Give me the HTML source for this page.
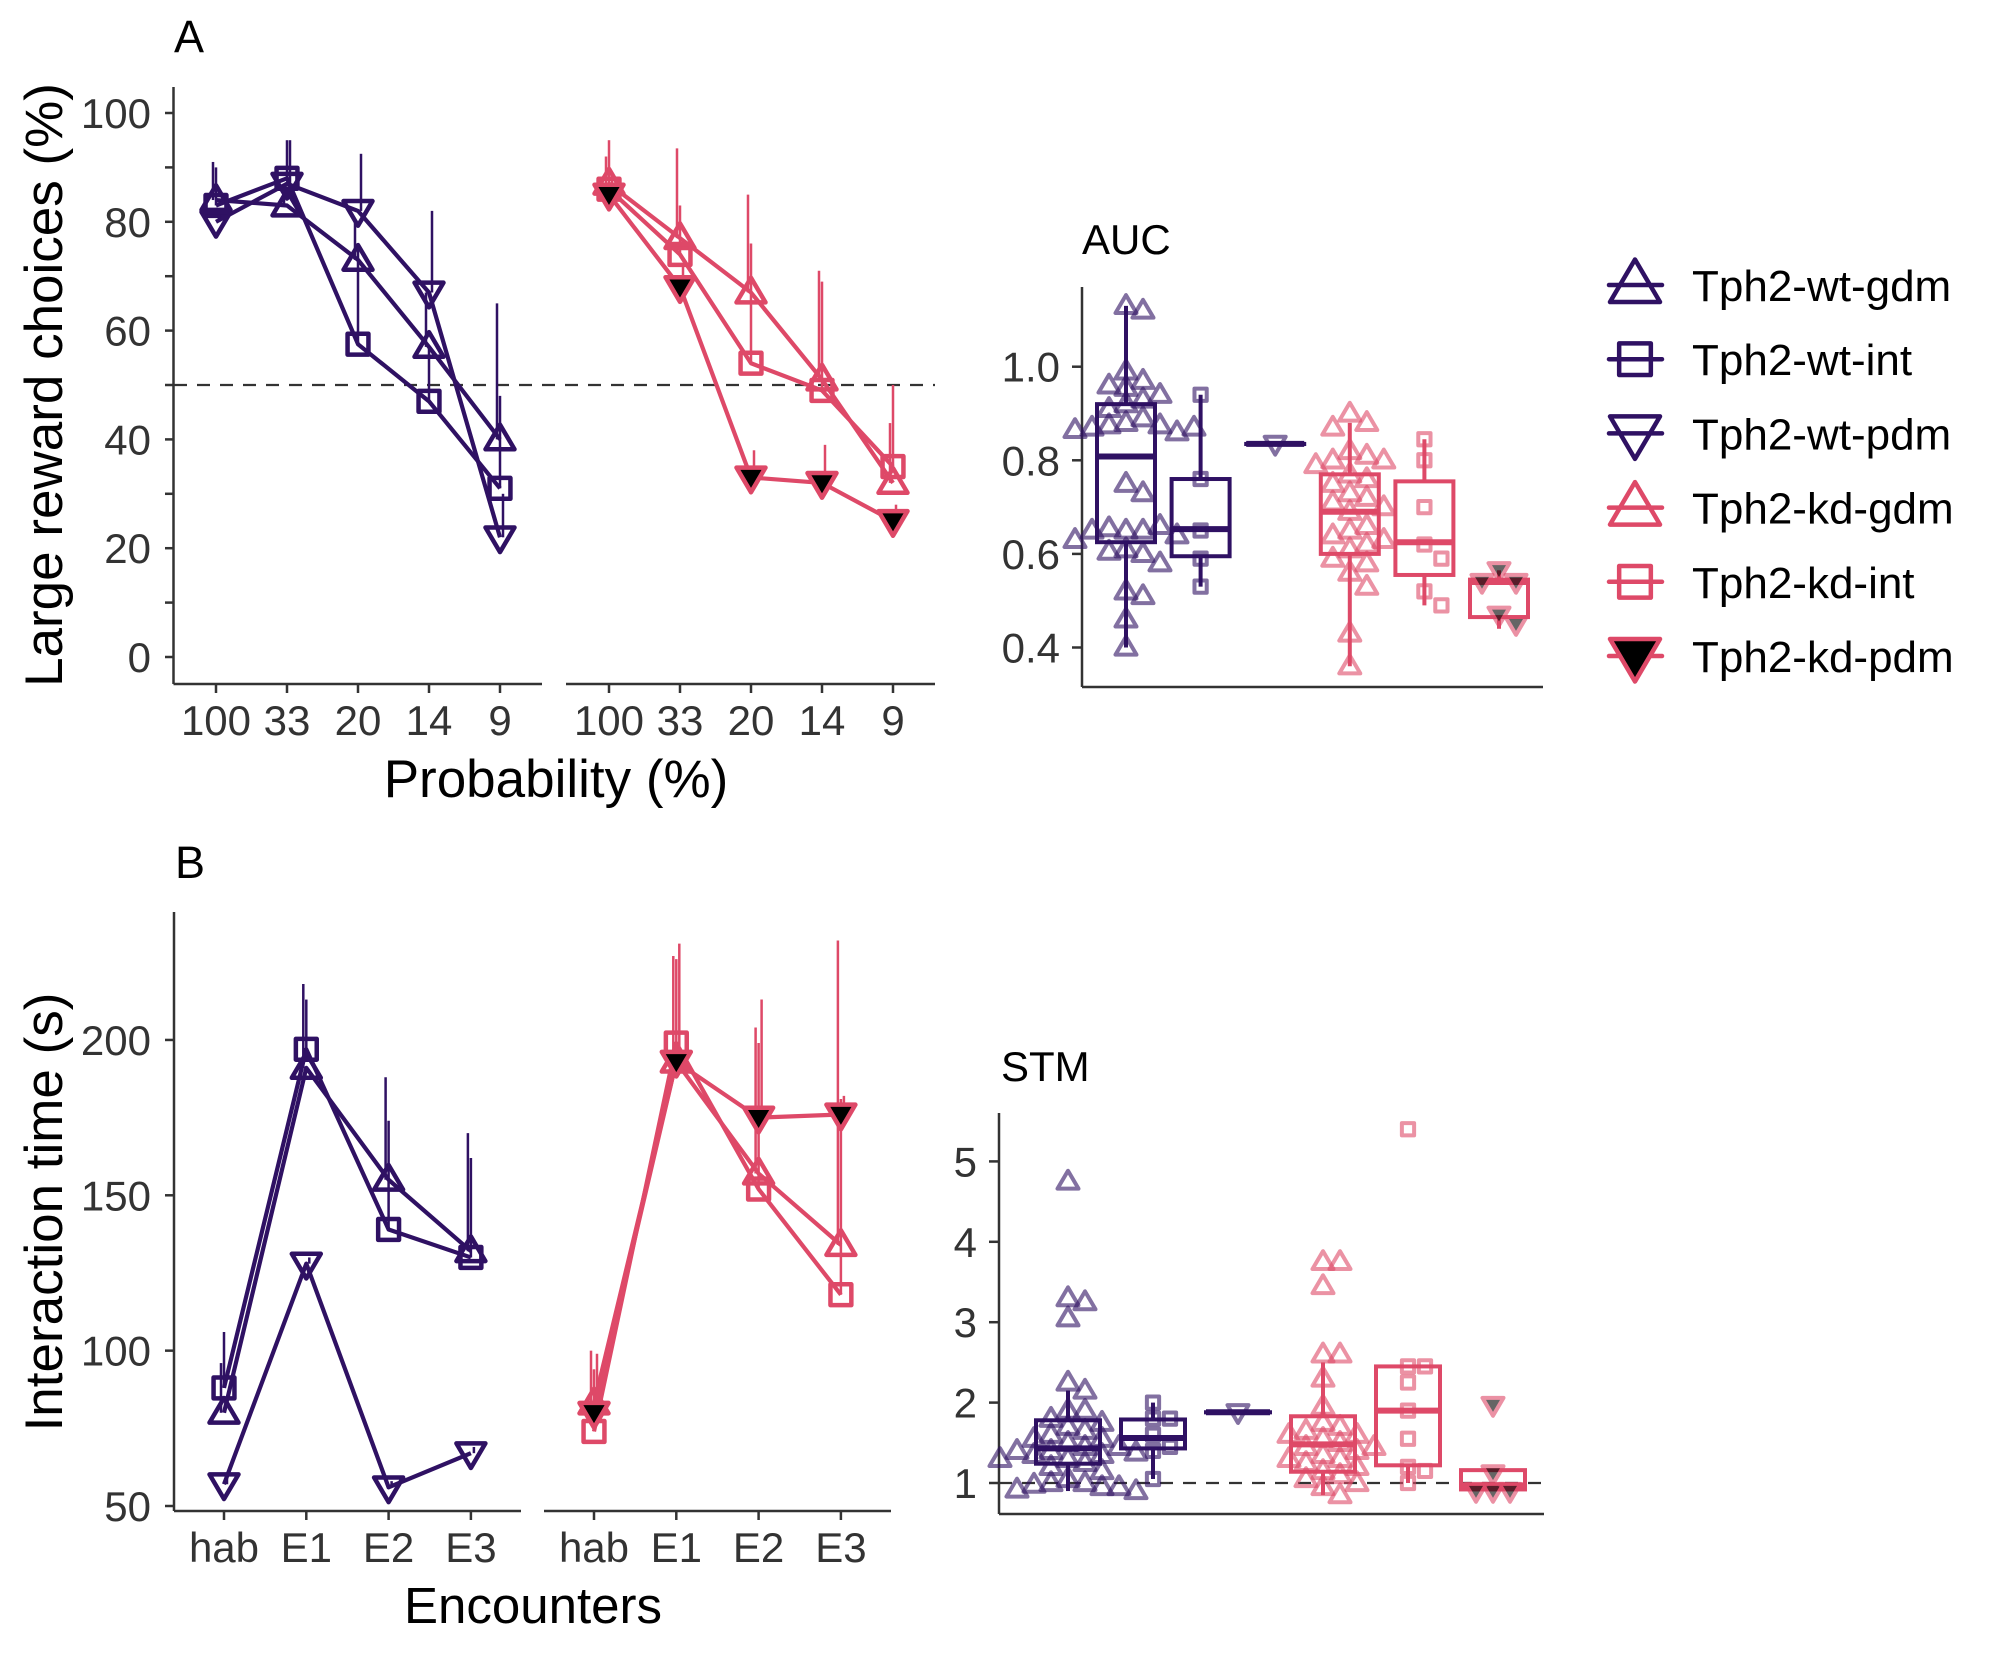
<!DOCTYPE html>
<html><head><meta charset="utf-8"><style>
html,body{margin:0;padding:0;background:#fff;}
svg{display:block;font-family:"Liberation Sans",Arial,sans-serif;}
</style></head><body>
<svg id="fig" width="2007" height="1653" viewBox="0 0 2007 1653" xmlns="http://www.w3.org/2000/svg">
<rect width="2007" height="1653" fill="#fff"/>
<g id="root"></g>
</svg>
<script>
// ---------- Panel A data ----------
const probCats = ["100","33","20","14","9"];
const aWtGdm = [84,83,73,57,40];
const aWtInt = [83,88,57.5,47,31];
const aWtPdm = [80,87,82,67,22];
const aKdGdm = [87,77,67,51,32];
const aKdInt = [86,74,54,49,35];
const aKdPdm = [85,68,33,32,25];
const aWtGdmTop = [91,86,80,67,65];
const aWtIntTop = [90,95,76,57,48];
const aWtPdmTop = [82,95,92.5,82,30];
const aKdGdmTop = [92,93.5,85,71,43];
const aKdIntTop = [95,83,76,69,50];
const aKdPdmTop = [88,72,38,39,28];
const aYTicks = [0,20,40,60,80,100];
// ---------- Panel B data ----------
const encCats = ["hab","E1","E2","E3"];
const bWtGdm = [80,191,155,132];
const bWtInt = [88,197,139,130];
const bWtPdm = [57,128,56,67];
const bKdGdm = [83,193,157,134];
const bKdInt = [74,199,152,118];
const bKdPdm = [80,193,175,176];
const bWtGdmTop = [96,218,188,170];
const bWtIntTop = [106,213,174,162];
const bWtPdmTop = [60,130,58,69];
const bKdGdmTop = [100,227,204,232];
const bKdIntTop = [94,226,199,181];
const bKdPdmTop = [99,231,213,182];
const bYTicks = [50,100,150,200];
// ---------- AUC box data [lo,q1,med,q3,hi] ----------
const aucStats = [[0.40,0.625,0.808,0.92,1.13],[0.53,0.595,0.653,0.76,0.94],[0.835,0.835,0.835,0.835,0.835],[0.36,0.60,0.69,0.77,0.88],[0.49,0.555,0.625,0.755,0.845],[0.44,0.465,0.54,0.545,0.565]];
const aucWtGdmPts = [1.13,1.12,0.99,0.97,0.96,0.955,0.94,0.92,0.93,0.91,0.89,0.88,0.875,0.875,0.87,0.86,0.865,0.87,0.75,0.73,0.65,0.65,0.655,0.66,0.65,0.64,0.63,0.61,0.60,0.605,0.58,0.52,0.51,0.46,0.40];
const aucWtIntPts = [0.94,0.76,0.65,0.59,0.53];
const aucWtPdmPts = [0.835];
const aucKdGdmPts = [0.90,0.88,0.87,0.82,0.81,0.80,0.80,0.79,0.77,0.76,0.75,0.73,0.72,0.71,0.70,0.69,0.66,0.65,0.64,0.63,0.62,0.61,0.59,0.58,0.56,0.53,0.43,0.36];
const aucKdIntPts = [0.845,0.80,0.70,0.62,0.59,0.52,0.49];
const aucKdPdmPts = [0.565,0.54,0.54,0.47,0.45];
const aucTicks = [0.4,0.6,0.8,1.0];
// ---------- STM box data ----------
const stmStats = [[0.9,1.24,1.43,1.78,2.15],[1.05,1.43,1.56,1.79,2.0],[1.88,1.88,1.88,1.88,1.88],[0.85,1.14,1.48,1.83,2.5],[1.0,1.22,1.9,2.45,2.45],[0.9,0.92,0.97,1.16,1.16]];
const stmWtGdmPts = [4.75,3.3,3.25,3.05,2.25,2.15,1.9,1.9,1.8,1.75,1.7,1.65,1.6,1.55,1.55,1.5,1.45,1.45,1.4,1.4,1.38,1.35,1.35,1.3,1.3,1.25,1.2,1.15,1.05,1.0,1.0,0.98,0.95,0.95,0.92,0.9];
const stmWtIntPts = [2.0,1.8,1.8,1.6,1.45,1.4,1.05];
const stmWtPdmPts = [1.88];
const stmKdGdmPts = [3.75,3.75,3.45,2.6,2.6,2.3,1.95,1.75,1.7,1.65,1.6,1.6,1.55,1.5,1.45,1.45,1.4,1.35,1.3,1.3,1.25,1.2,1.15,1.1,1.05,1.0,0.95,0.85];
const stmKdIntPts = [5.4,2.45,2.45,2.25,1.9,1.55,1.2,1.15,1.0];
const stmKdPdmPts = [1.97,1.12,0.9,0.9,0.9];
const stmTicks = [1,2,3,4,5];
const legendLabels = ["Tph2-wt-gdm","Tph2-wt-int","Tph2-wt-pdm","Tph2-kd-gdm","Tph2-kd-int","Tph2-kd-pdm"];

const PUR = "#2F1163", PNK = "#DE4968", AX = "#333333";
const NS = "http://www.w3.org/2000/svg";
const root = document.getElementById('root');
function el(tag, attrs, parent, text){
  const e = document.createElementNS(NS, tag);
  for (const k in attrs) e.setAttribute(k, attrs[k]);
  if (text !== undefined) e.textContent = text;
  (parent || root).appendChild(e);
  return e;
}
function marker(shape, cx, cy, s, color, parent, fillBlack, sw, op){
  const w = s/2, h = s*0.85;
  let m;
  const base = {stroke: color, 'stroke-width': sw, fill: fillBlack ? '#000' : 'none', 'stroke-linejoin':'round'};
  if (op !== undefined) base.opacity = op;
  if (shape === 'up') {
    base.points = `${cx},${cy-h*0.6} ${cx-w},${cy+h*0.4} ${cx+w},${cy+h*0.4}`;
    m = el('polygon', base, parent);
  } else if (shape === 'down') {
    base.points = `${cx},${cy+h*0.6} ${cx-w},${cy-h*0.4} ${cx+w},${cy-h*0.4}`;
    m = el('polygon', base, parent);
  } else {
    const q = s*0.36;
    base.x = cx-q; base.y = cy-q; base.width = 2*q; base.height = 2*q;
    m = el('rect', base, parent);
  }
  return m;
}
const shapes = ['up','sq','down','up','sq','down'];
const colors = [PUR,PUR,PUR,PNK,PNK,PNK];

// ---------- Panel A ----------
const gA = el('g', {});


function yA(v){ return 657 - v*5.44; }
function xA(i, p){ return (p===0 ? 216 : 609) + i*71; }
el('text', {x:174, y:52, 'font-size':45, fill:'#000',  }, gA, 'A');
el('line', {x1:173.5, y1:87, x2:173.5, y2:684, stroke:AX, 'stroke-width':2.5,  }, gA);
for (let v=0; v<=100; v+=10){
  el('line', {x1:165, y1:yA(v), x2:173.5, y2:yA(v), stroke:AX, 'stroke-width':2.5}, gA);
}
aYTicks.forEach(v => {
  const t = el('text', {x:151, y:yA(v)+15, 'font-size':42, fill:'#333', 'text-anchor':'end'}, gA, String(v));
  
  
});
[[173.5,542],[566,935]].forEach((r,p) => {
  el('line', {x1:r[0], y1:684, x2:r[1], y2:684, stroke:AX, 'stroke-width':2.5,  }, gA);
  probCats.forEach((c,i) => {
    el('line', {x1:xA(i,p), y1:684, x2:xA(i,p), y2:693, stroke:AX, 'stroke-width':2.5}, gA);
    const t = el('text', {x:xA(i,p), y:735, 'font-size':42, fill:'#333', 'text-anchor':'middle'}, gA, c);
    
    
  });
});
el('line', {x1:174, y1:yA(50), x2:935, y2:yA(50), stroke:'#333', 'stroke-width':2.2, 'stroke-dasharray':'13,10',  }, gA);
el('text', {x:556, y:797, 'font-size':53, fill:'#000', 'text-anchor':'middle',  }, gA, 'Probability (%)');
el('text', {x:0, y:0, 'font-size':53, fill:'#000', 'text-anchor':'middle', transform:'translate(62,385) rotate(-90)',  }, gA, 'Large reward choices (%)');

function drawSeries(g, vals, tops, xf, yf, p, shape, color, black, name, dx){
  for (let i=0;i<vals.length;i++){
    el('line', {x1:xf(i,p)+dx, y1:yf(vals[i]), x2:xf(i,p)+dx, y2:yf(tops[i]), stroke:color, 'stroke-width':2.5}, g);
  }
  const pts = vals.map((v,i)=>`${xf(i,p)},${yf(v)}`).join(' ');
  const pl = el('polyline', {points:pts, fill:'none', stroke:color, 'stroke-width':4.2, 'stroke-linejoin':'round'}, g);
  
  
  vals.forEach((v,i) => {
    const m = marker(shape, xf(i,p), yf(v), 29, color, g, black, 4.5);
    
    
  });
}
drawSeries(gA, aWtGdm, aWtGdmTop, xA, yA, 0, 'up', PUR, false, 'wt-gdm', -3);
drawSeries(gA, aWtInt, aWtIntTop, xA, yA, 0, 'sq', PUR, false, 'wt-int', 0);
drawSeries(gA, aWtPdm, aWtPdmTop, xA, yA, 0, 'down', PUR, false, 'wt-pdm', 3);
drawSeries(gA, aKdGdm, aKdGdmTop, xA, yA, 1, 'up', PNK, false, 'kd-gdm', -3);
drawSeries(gA, aKdInt, aKdIntTop, xA, yA, 1, 'sq', PNK, false, 'kd-int', 0);
drawSeries(gA, aKdPdm, aKdPdmTop, xA, yA, 1, 'down', PNK, true, 'kd-pdm', 3);

// ---------- Panel B ----------
const gB = el('g', {});


function yB(v){ return 1506 - (v-50)*3.107; }
function xB(i, p){ return (p===0 ? 224 : 594) + i*82.3; }
el('text', {x:175, y:878, 'font-size':45, fill:'#000',  }, gB, 'B');
el('line', {x1:174, y1:912, x2:174, y2:1511, stroke:AX, 'stroke-width':2.5,  }, gB);
bYTicks.forEach(v => {
  el('line', {x1:165, y1:yB(v), x2:174, y2:yB(v), stroke:AX, 'stroke-width':2.5}, gB);
  const t = el('text', {x:151, y:yB(v)+15, 'font-size':42, fill:'#333', 'text-anchor':'end'}, gB, String(v));
  
  
});
[[174,521],[544,891]].forEach((r,p) => {
  el('line', {x1:r[0], y1:1511, x2:r[1], y2:1511, stroke:AX, 'stroke-width':2.5,  }, gB);
  encCats.forEach((c,i) => {
    el('line', {x1:xB(i,p), y1:1511, x2:xB(i,p), y2:1520, stroke:AX, 'stroke-width':2.5}, gB);
    const t = el('text', {x:xB(i,p), y:1562, 'font-size':42, fill:'#333', 'text-anchor':'middle'}, gB, c);
    
    
  });
});
el('text', {x:533, y:1623, 'font-size':51, fill:'#000', 'text-anchor':'middle',  }, gB, 'Encounters');
el('text', {x:0, y:0, 'font-size':53, fill:'#000', 'text-anchor':'middle', transform:'translate(62,1212) rotate(-90)',  }, gB, 'Interaction time (s)');
drawSeries(gB, bWtGdm, bWtGdmTop, xB, yB, 0, 'up', PUR, false, 'b-wt-gdm', -3);
drawSeries(gB, bWtInt, bWtIntTop, xB, yB, 0, 'sq', PUR, false, 'b-wt-int', 0);
drawSeries(gB, bWtPdm, bWtPdmTop, xB, yB, 0, 'down', PUR, false, 'b-wt-pdm', 3);
drawSeries(gB, bKdGdm, bKdGdmTop, xB, yB, 1, 'up', PNK, false, 'b-kd-gdm', -3);
drawSeries(gB, bKdInt, bKdIntTop, xB, yB, 1, 'sq', PNK, false, 'b-kd-int', 0);
drawSeries(gB, bKdPdm, bKdPdmTop, xB, yB, 1, 'down', PNK, true, 'b-kd-pdm', 3);

// ---------- Box panels ----------
function swarm(ys, stepX, minDy){
  const placed = [], out = [];
  ys.forEach(y => {
    const slots = [0];
    for (let k=1;k<12;k++){ slots.push(k); slots.push(-k); }
    let off = 0;
    for (const k of slots){
      const x = k*stepX;
      if (!placed.some(p => Math.abs(p[0]-x) < stepX*0.99 && Math.abs(p[1]-y) < minDy)) { off = x; break; }
    }
    placed.push([off, y]); out.push(off);
  });
  return out;
}
function boxPanel(cfg){
  const g = el('g', {});
  
  
  el('text', {x:cfg.titleX, y:cfg.titleY, 'font-size':42, fill:'#000'}, g, cfg.title);
  el('line', {x1:cfg.ax, y1:cfg.top, x2:cfg.ax, y2:cfg.bot, stroke:AX, 'stroke-width':2.5}, g);
  el('line', {x1:cfg.ax, y1:cfg.bot, x2:cfg.right, y2:cfg.bot, stroke:AX, 'stroke-width':2.5}, g);
  cfg.ticks.forEach(v => {
    el('line', {x1:cfg.ax-10, y1:cfg.y(v), x2:cfg.ax, y2:cfg.y(v), stroke:AX, 'stroke-width':2.5}, g);
    const t = el('text', {x:cfg.ax-22, y:cfg.y(v)+15, 'font-size':42, fill:'#333', 'text-anchor':'end'}, g, cfg.fmt(v));
    
    
  });
  if (cfg.dash) el('line', {x1:cfg.ax, y1:cfg.y(1), x2:cfg.right, y2:cfg.y(1), stroke:'#333', 'stroke-width':2.2, 'stroke-dasharray':'13,10'}, g);
  cfg.stats.forEach((s,gi) => {
    const cx = cfg.x0 + gi*cfg.dx, hw = cfg.bw/2, c = colors[gi];
    const bg = el('g', {}, g);
    
    
    el('line', {x1:cx, y1:cfg.y(s[0]), x2:cx, y2:cfg.y(s[1]), stroke:c, 'stroke-width':4}, bg);
    el('line', {x1:cx, y1:cfg.y(s[3]), x2:cx, y2:cfg.y(s[4]), stroke:c, 'stroke-width':4}, bg);
    el('rect', {x:cx-hw, y:cfg.y(s[3]), width:cfg.bw, height:Math.max(0.1, cfg.y(s[1])-cfg.y(s[3])), fill:'none', stroke:c, 'stroke-width':4}, bg);
    el('line', {x1:cx-hw, y1:cfg.y(s[2]), x2:cx+hw, y2:cfg.y(s[2]), stroke:c, 'stroke-width':6}, bg);
  });
  cfg.pts.forEach((arr,gi) => {
    const cx = cfg.x0 + gi*cfg.dx;
    const ys = arr.map(v => cfg.y(v));
    const offs = swarm(ys, 17, 16);
    arr.forEach((v,i) => {
      const m = marker(shapes[gi], cx + offs[i], ys[i], shapes[gi]==='sq'?17:21, colors[gi], g, gi===5, 4, 0.6);
      
      
    });
  });
}
boxPanel({name:'auc-panel', title:'AUC', titleX:1082, titleY:254, ax:1082, top:287, bot:687, right:1543,
  y:v => 366.7 - (v-1.0)*468, ticks:aucTicks, fmt:v=>v.toFixed(1), dash:false,
  stats:aucStats, pts:[aucWtGdmPts,aucWtIntPts,aucWtPdmPts,aucKdGdmPts,aucKdIntPts,aucKdPdmPts],
  x0:1126, dx:74.6, bw:58});
boxPanel({name:'stm-panel', title:'STM', titleX:1001, titleY:1081, ax:999, top:1113, bot:1514, right:1544,
  y:v => 1483 - (v-1)*80.4, ticks:stmTicks, fmt:v=>String(v), dash:true,
  stats:stmStats, pts:[stmWtGdmPts,stmWtIntPts,stmWtPdmPts,stmKdGdmPts,stmKdIntPts,stmKdPdmPts],
  x0:1068, dx:85, bw:64});

// ---------- Legend ----------
const gL = el('g', {});


legendLabels.forEach((lab,i) => {
  const cy = 285 + i*74.2;
  const ge = el('g', {}, gL);
  
  
  el('line', {x1:1609, y1:cy, x2:1662, y2:cy, stroke:colors[i], 'stroke-width':4.5, 'stroke-linecap':'round'}, ge);
  const s = shapes[i];
  if (s === 'sq') marker('sq', 1635, cy, 44, colors[i], ge, false, 4.5);
  else marker(s, 1635, cy, 50, colors[i], ge, i===5, 4.5);
  el('text', {x:1692, y:cy+16, 'font-size':44, fill:'#000'}, ge, lab);
});
</script>
</body></html>
